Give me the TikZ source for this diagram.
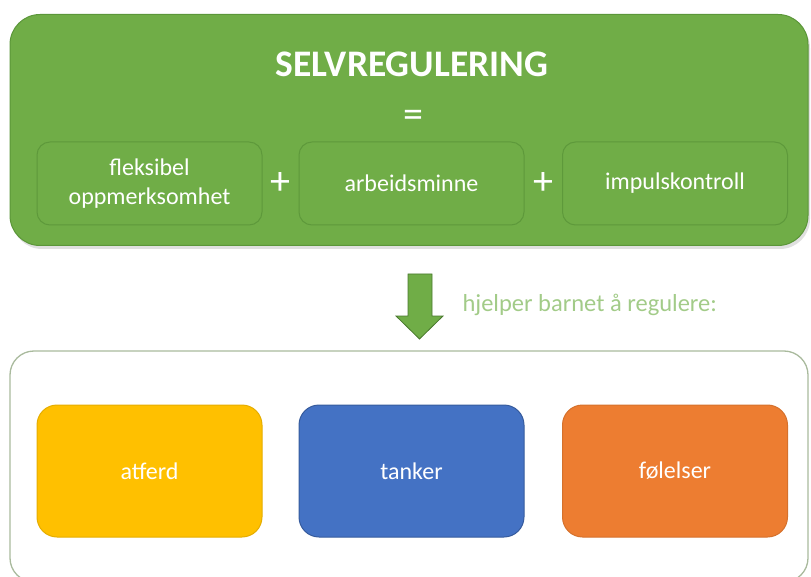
\documentclass[tikz,border=0pt]{standalone}
\usepackage{fontspec}
\setmainfont{Carlito}
\usepackage{tikz}
\usetikzlibrary{shapes,calc}
\definecolor{gronn}{HTML}{70AD47}
\definecolor{morkgronn}{HTML}{5B9639}
\definecolor{lysgronn}{HTML}{A2CB88}
\definecolor{kant}{HTML}{A9BA9D}
\definecolor{gul}{HTML}{FFC000}
\definecolor{bla}{HTML}{4472C4}
\definecolor{oransje}{HTML}{ED7D31}
\tikzset{hovedboks/.style={
    draw=morkgronn,
    fill=gronn,
    line width=1pt,
    rounded corners=30pt}}
\tikzset{delboks/.style={
    draw=morkgronn!85!gronn,
    fill=gronn,
    line width=1pt,
    rounded corners=13pt,
    minimum width=225pt,
    minimum height=83pt,
    text=white,
    align=center,
    font=\fontsize{24}{29}\selectfont}}
\tikzset{fargeboks/.style={
    rounded corners=20pt,
    line width=1pt,
    minimum width=225pt,
    minimum height=132pt,
    text=white,
    font=\fontsize{24}{29}\selectfont}}
\tikzset{tegn/.style={
    text=white,
    font=\fontsize{40}{40}\selectfont}}

\begin{document}
\begin{tikzpicture}[x=1pt,y=-1pt]
\useasboundingbox (0,0) rectangle (811,577);
\coordinate (R) at (409,130);
\coordinate (F) at (149.5,183.5);
\coordinate (A) at (411.5,183.5);
\coordinate (I) at (675,183.5);

% regulering
\fill[black!12,rounded corners=30pt] (12,18) rectangle (810,249);
\node[hovedboks,minimum width=798pt,minimum height=231pt] (regul) at (R) {};
\node[text=white,font=\fontsize{37.5}{37.5}\selectfont\bfseries] (tittel) at (412,64) {SELVREGULERING};
\node[tegn] (lik) at (413,119) {=};
	\node[delboks] (fleks) at (F) {fleksibel\\oppmerksomhet};
	\node[delboks] (arbeid) at (A) {arbeidsminne};
	\node[delboks] (impuls) at (I) {impulskontroll};
	\node[tegn] (pluss1) at ($(fleks.east)!0.5!(arbeid.west)$) {+};
	\node[tegn] (pluss2) at ($(arbeid.east)!0.5!(impuls.west)$) {+};

% pil
\filldraw[fill=gronn,draw=morkgronn!80!black,line width=0.8pt]
  (408,274) -- (432,274) -- (432,316) -- (443,316) -- (419.5,339)
  -- (396,316) -- (408,316) -- cycle;
\node[anchor=west,text=lysgronn,font=\fontsize{24.5}{24.5}\selectfont] (hjelp) at (459,305) {hjelper barnet å regulere:};

% omraader
\draw[kant,line width=1.3pt,rounded corners=24pt] (10,351) rectangle (808,582);
  \node[fargeboks,fill=gul,draw=gul!90!black] (atferd) at (149.5,471) {atferd};
  \node[fargeboks,fill=bla,draw=bla!80!black] (tanker) at (411.5,471) {tanker};
  \node[fargeboks,fill=oransje,draw=oransje!90!black] (folelser) at (675,471) {følelser};
\end{tikzpicture}
\end{document}
